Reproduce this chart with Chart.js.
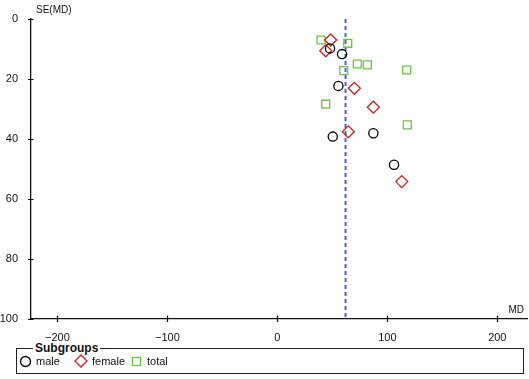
<!DOCTYPE html>
<html lang="en">
<head>
  <meta charset="UTF-8">
  <title>Funnel plot</title>
  <script src="https://cdn.jsdelivr.net/npm/chart.js"></script>
  <style>
    body { margin: 0; background: #fff; font-family: "Liberation Sans", Arial, sans-serif; }
    #wrap { position: relative; width: 529px; height: 379px; }
    #box { position: absolute; left: 16px; top: 348px; width: 508px; height: 26px; border: 1px solid #222; box-sizing: border-box; }
    #box .title { position: absolute; left: 16px; top: -8px; padding: 0 2px; background: #fff; font-weight: bold; font-size: 12px; line-height: 14px; color: #111; }
    .item { position: absolute; top: 354px; font-size: 11px; line-height: 14px; color: #111; display: flex; align-items: center; }
    .item svg { margin-right: 4px; }
  </style>
</head>
<body>
  <div id="wrap">
    <canvas id="funnel" width="529" height="345"></canvas>
    <div id="box"><span class="title">Subgroups</span></div>
    <div class="item" style="left:19px">
      <svg width="13" height="13"><circle cx="6.5" cy="6.5" r="5" fill="none" stroke="#000" stroke-width="1.3"/></svg>male
    </div>
    <div class="item" style="left:74px">
      <svg width="14" height="14"><polygon points="7,1 13,7 7,13 1,7" fill="none" stroke="#c8211e" stroke-width="1.3"/></svg>female
    </div>
    <div class="item" style="left:130px">
      <svg width="13" height="13"><rect x="2.5" y="2.5" width="8" height="8" fill="none" stroke="#6cc24a" stroke-width="1.3"/></svg>total
    </div>
  </div>

  <script>
    // valeurs (MD, SE(MD))
    const maleMD = [47.9, 58.8, 55.5, 87.3, 50.4, 106.1];
    const maleSE = [9.8, 11.7, 22.3, 38.1, 39.2, 48.6];
    const femaleMD = [48.5, 44, 70, 87.3, 64.5, 113.1];
    const femaleSE = [7, 10.6, 23.1, 29.4, 37.6, 54.2];
    const totalMD = [39.7, 64, 72.7, 81.8, 60.4, 117.6, 44, 118.2];
    const totalSE = [7, 8.1, 15, 15.3, 17.2, 17, 28.4, 35.3];
    const pooledMD = 62;
    const xTicks = [-200, -100, 0, 100, 200];
    const yTicks = [0, 20, 40, 60, 80, 100];

    function pts(xs, ys) {
      return xs.map((x, i) => ({ x: x, y: ys[i] }));
    }

    // petits traits de graduation qui croisent les axes
    const tickMarks = {
      id: 'tickMarks',
      afterDraw(chart) {
        const ctx = chart.ctx;
        const xs = chart.scales.x, ys = chart.scales.y;
        ctx.save();
        ctx.strokeStyle = '#111';
        ctx.lineWidth = 1.2;
        ctx.beginPath();
        xTicks.forEach(v => {
          const px = Math.round(xs.getPixelForValue(v)) + 0.5;
          ctx.moveTo(px, ys.bottom - 3.5);
          ctx.lineTo(px, ys.bottom + 3);
        });
        yTicks.forEach(v => {
          const py = Math.round(ys.getPixelForValue(v)) + 0.5;
          ctx.moveTo(xs.left - 3, py);
          ctx.lineTo(xs.left + 2.5, py);
        });
        ctx.stroke();
        ctx.fillStyle = '#111';
        ctx.font = '10px "Liberation Sans", Arial, sans-serif';
        ctx.textBaseline = 'middle';
        ctx.textAlign = 'left';
        ctx.fillText('SE(MD)', xs.left + 5, 10);
        ctx.textAlign = 'right';
        ctx.fillText('MD', chart.width - 5, ys.bottom - 8.5);
        ctx.restore();
      }
    };

    const ctx = document.getElementById('funnel').getContext('2d');
    new Chart(ctx, {
      type: 'scatter',
      data: {
        datasets: [
          {
            label: 'male',
            data: pts(maleMD, maleSE),
            pointStyle: 'circle',
            pointRadius: 4.6,
            borderColor: '#000',
            backgroundColor: 'rgba(0,0,0,0)',
            borderWidth: 1.3
          },
          {
            label: 'female',
            data: pts(femaleMD, femaleSE),
            pointStyle: 'rectRot',
            pointRadius: 6,
            borderColor: '#c8211e',
            backgroundColor: 'rgba(0,0,0,0)',
            borderWidth: 1.3
          },
          {
            label: 'total',
            data: pts(totalMD, totalSE),
            pointStyle: 'rect',
            pointRadius: 5.6,
            borderColor: '#6cc24a',
            backgroundColor: 'rgba(0,0,0,0)',
            borderWidth: 1.3
          },
          {
            label: 'pooled',
            data: [{ x: pooledMD, y: 0 }, { x: pooledMD, y: 100 }],
            showLine: true,
            pointRadius: 0,
            borderColor: '#4a5ede',
            borderWidth: 2,
            borderDash: [4, 3]
          }
        ]
      },
      options: {
        responsive: false,
        animation: false,
        events: [],
        layout: { autoPadding: false, padding: { top: 19, right: 2, left: 0, bottom: 0 } },
        plugins: { legend: { display: false }, tooltip: { enabled: false } },
        scales: {
          x: {
            type: 'linear',
            min: -224,
            max: 227,
            grid: { display: false },
            border: { display: true, color: '#111', width: 1.3 },
            afterFit(s) { s.height = 26; },
            afterBuildTicks(s) { s.ticks = xTicks.map(v => ({ value: v })); },
            ticks: {
              padding: 4,
              color: '#111',
              font: { family: '"Liberation Sans", Arial, sans-serif', size: 11 },
              maxRotation: 0,
              callback: v => String(v).replace('-', '\u2212')
            }
          },
          y: {
            type: 'linear',
            reverse: true,
            min: 0,
            max: 100,
            grid: { display: false },
            border: { display: true, color: '#111', width: 1.3 },
            afterFit(s) { s.width = 31; },
            afterBuildTicks(s) { s.ticks = yTicks.map(v => ({ value: v })); },
            ticks: {
              padding: 5,
              color: '#111',
              font: { family: '"Liberation Sans", Arial, sans-serif', size: 11 }
            }
          }
        }
      },
      plugins: [tickMarks]
    });
  </script>
</body>
</html>
